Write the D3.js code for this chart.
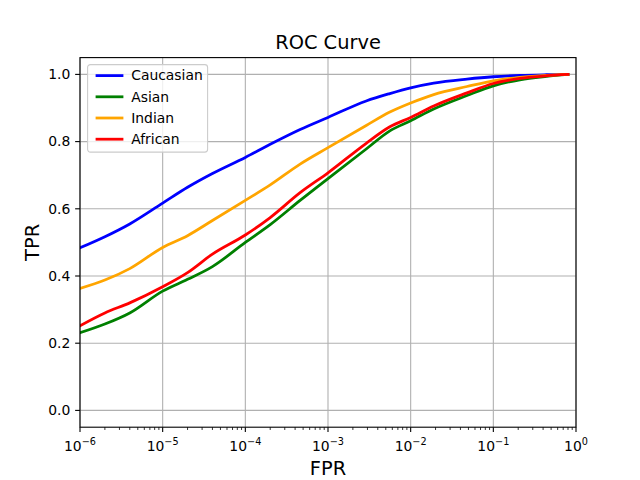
<html>
<head>
    <title>ROC Curve</title>
    <script src="https://d3js.org/d3.v7.min.js"></script>
    <style>
        body { margin: 0; background: white; }
        text { font-family: "DejaVu Sans", sans-serif; fill: black; }
        .tick-label { font-size: 13.9px; }
        .axis-title { font-size: 19.4px; }
    </style>
</head>
<body>
<div id="vis_container"></div>
<script>
    // false positive rates shared by every curve
    var fpr = [1e-6, 2e-6, 4e-6, 1e-5, 2e-5, 4e-5, 1e-4, 2e-4, 4.6e-4, 1e-3, 2.9e-3, 5.6e-3, 1e-2, 1.9e-2, 4.8e-2, 1e-1, 2.1e-1, 4.4e-1, 8e-1];

    var groups = ["Caucasian", "Asian", "Indian", "African"];
    var colors = ["blue", "green", "orange", "red"];

    var tprCaucasian = [0.484, 0.517, 0.555, 0.617, 0.664, 0.705, 0.753, 0.792, 0.836, 0.872, 0.921, 0.943, 0.960, 0.974, 0.986, 0.993, 0.997, 0.999, 1.0];
    var tprAsian     = [0.231, 0.257, 0.290, 0.355, 0.390, 0.428, 0.500, 0.553, 0.625, 0.690, 0.778, 0.832, 0.862, 0.897, 0.937, 0.966, 0.984, 0.994, 1.0];
    var tprIndian    = [0.363, 0.388, 0.422, 0.485, 0.520, 0.565, 0.625, 0.671, 0.733, 0.782, 0.848, 0.888, 0.915, 0.940, 0.964, 0.981, 0.991, 0.997, 1.0];
    var tprAfrican   = [0.252, 0.290, 0.320, 0.368, 0.410, 0.465, 0.522, 0.574, 0.648, 0.707, 0.795, 0.844, 0.872, 0.906, 0.945, 0.973, 0.988, 0.996, 1.0];
    var tprs = [tprCaucasian, tprAsian, tprIndian, tprAfrican];

    var xTicks = [1e-6, 1e-5, 1e-4, 1e-3, 1e-2, 1e-1, 1];
    var yTicks = [0.0, 0.2, 0.4, 0.6, 0.8, 1.0];

    var width = 640, height = 480;
    var axLeft = 80, axRight = 576, axTop = 57.6, axBottom = 427.2;

    var svg = d3.select("#vis_container")
            .append("svg")
            .attr("width", width)
            .attr("height", height);

    var x = d3.scaleLog()
            .domain([1e-6, 1])
            .range([axLeft, axRight]);

    var y = d3.scaleLinear()
            .domain([-0.05, 1.05])
            .range([axBottom, axTop]);

    //grid lines at the major ticks
    svg.append("g").selectAll("line").data(xTicks).enter().append("line")
            .attr("x1", function(d) { return x(d); })
            .attr("x2", function(d) { return x(d); })
            .attr("y1", axTop).attr("y2", axBottom)
            .style("stroke", "#b0b0b0").style("stroke-width", 1.1);

    svg.append("g").selectAll("line").data(yTicks).enter().append("line")
            .attr("y1", function(d) { return y(d); })
            .attr("y2", function(d) { return y(d); })
            .attr("x1", axLeft).attr("x2", axRight)
            .style("stroke", "#b0b0b0").style("stroke-width", 1.1);

    //curves
    var line = d3.line()
            .curve(d3.curveMonotoneX)
            .x(function(d) { return x(d[0]); })
            .y(function(d) { return y(d[1]); });

    svg.append("clipPath")
            .attr("id", "clip")
            .append("rect")
            .attr("x", axLeft).attr("y", axTop)
            .attr("width", axRight - axLeft).attr("height", axBottom - axTop);

    var plot = svg.append("g")
            .attr("clip-path", "url(#clip)");

    groups.forEach(function(g, i) {
        plot.append("path")
                .datum(fpr.map(function(f, j) { return [f, tprs[i][j]]; }))
                .attr("d", line)
                .style("fill", "none")
                .style("stroke", colors[i])
                .style("stroke-width", 2.78)
                .style("stroke-linejoin", "round")
                .style("stroke-linecap", "square");
    });

    //axes frame
    svg.append("rect")
            .attr("x", axLeft).attr("y", axTop)
            .attr("width", axRight - axLeft).attr("height", axBottom - axTop)
            .style("fill", "none").style("stroke", "black").style("stroke-width", 1.1);

    //x axis: major and minor ticks
    var minor = [];
    for (var e = -6; e < 0; e++) {
        for (var m = 2; m < 10; m++) minor.push(m * Math.pow(10, e));
    }
    var xAxis = svg.append("g");
    xAxis.selectAll(".minor").data(minor).enter().append("line")
            .attr("x1", function(d) { return x(d); })
            .attr("x2", function(d) { return x(d); })
            .attr("y1", axBottom).attr("y2", axBottom + 2.78)
            .style("stroke", "black").style("stroke-width", 0.8);
    xAxis.selectAll(".major").data(xTicks).enter().append("line")
            .attr("x1", function(d) { return x(d); })
            .attr("x2", function(d) { return x(d); })
            .attr("y1", axBottom).attr("y2", axBottom + 4.86)
            .style("stroke", "black").style("stroke-width", 1.1);
    var xl = xAxis.selectAll(".lab").data(xTicks).enter().append("text")
            .attr("class", "tick-label")
            .attr("x", function(d) { return x(d); })
            .attr("y", axBottom + 24)
            .style("text-anchor", "middle");
    xl.append("tspan").text("10");
    xl.append("tspan")
            .attr("dy", -6)
            .style("font-size", "9.7px")
            .text(function(d) { var p = Math.round(Math.log10(d)); return p < 0 ? "\u2212" + (-p) : String(p); });

    //y axis
    var yAxis = svg.append("g");
    yAxis.selectAll("line").data(yTicks).enter().append("line")
            .attr("x1", axLeft - 4.86).attr("x2", axLeft)
            .attr("y1", function(d) { return y(d); })
            .attr("y2", function(d) { return y(d); })
            .style("stroke", "black").style("stroke-width", 1.1);
    yAxis.selectAll("text").data(yTicks).enter().append("text")
            .attr("class", "tick-label")
            .attr("x", axLeft - 9.7)
            .attr("y", function(d) { return y(d); })
            .attr("dy", "0.35em")
            .style("text-anchor", "end")
            .text(function(d) { return d.toFixed(1); });

    //titles
    svg.append("text")
            .attr("class", "axis-title")
            .attr("x", (axLeft + axRight) / 2)
            .attr("y", 49)
            .style("text-anchor", "middle")
            .text("ROC Curve");

    svg.append("text")
            .attr("class", "axis-title")
            .attr("x", (axLeft + axRight) / 2)
            .attr("y", 475)
            .style("text-anchor", "middle")
            .text("FPR");

    svg.append("text")
            .attr("class", "axis-title")
            .attr("transform", "translate(39," + ((axTop + axBottom) / 2) + ") rotate(-90)")
            .style("text-anchor", "middle")
            .text("TPR");

    //legend
    var legend = svg.append("g")
            .attr("transform", "translate(87.6,64.6)");
    legend.append("rect")
            .attr("width", 120).attr("height", 87.5)
            .attr("rx", 2.8)
            .style("fill", "white").style("fill-opacity", 0.8)
            .style("stroke", "#cccccc").style("stroke-width", 1.1);
    groups.forEach(function(g, i) {
        var ly = 11 + i * 21.2;
        legend.append("line")
                .attr("x1", 8).attr("x2", 35.8)
                .attr("y1", ly).attr("y2", ly)
                .style("stroke", colors[i]).style("stroke-width", 2.78);
        legend.append("text")
                .attr("class", "tick-label")
                .attr("x", 43.6).attr("y", ly)
                .attr("dy", "0.35em")
                .text(g);
    });
</script>
</body>
</html>
